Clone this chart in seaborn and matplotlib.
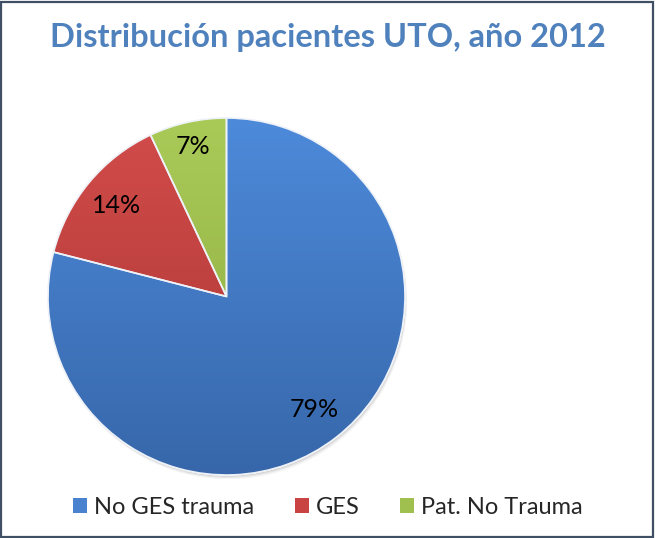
import numpy as np
import matplotlib
matplotlib.use("Agg")
import matplotlib.pyplot as plt
import seaborn as sns
from matplotlib.colors import to_rgb
from matplotlib.patches import Rectangle, Wedge, Circle

sns.set_theme(style="white")
plt.rcParams['font.family'] = ['Lato', 'DejaVu Sans']

categories = ["No GES trauma", "GES", "Pat. No Trauma"]
values = [79, 14, 7]
title = "Distribución pacientes UTO, año 2012"

light = ["#4D8ADA", "#D24C4A", "#AACA58"]
dark = ["#3767AA", "#A93634", "#8AA93E"]
base = ["#4A82D0", "#C84341", "#9FC04E"]

fig = plt.figure(figsize=(6.56, 5.38), dpi=100)
fig.patch.set_facecolor("white")

cx, cy, r = 226.5, 241.5, 178.5
W, H = 656, 538
ax = fig.add_axes([(cx - r) / W, (cy - r) / H, 2 * r / W, 2 * r / H])

wedges, texts, autotexts = ax.pie(
    values, colors=base, startangle=90, counterclock=False,
    autopct=lambda p: f"{p:.0f}%", pctdistance=0.8,
    wedgeprops=dict(edgecolor="white", linewidth=1.2),
    textprops=dict(fontsize=18, color="black"))

# the smallest slice label sits a bit further out, as in the original
x7, y7 = autotexts[2].get_position()
autotexts[2].set_position((x7 * 0.86 / 0.8, y7 * 0.86 / 0.8))

# soft shadow under the pie
for k, a in enumerate([0.10, 0.07, 0.04]):
    ax.add_patch(Circle((0.004 * (k + 1), -0.008 * (k + 1)), 1.0, facecolor="black",
                        edgecolor="none", alpha=a, zorder=0.5))

# subtle vertical gradient in each wedge
for w, lc, dc in zip(wedges, light, dark):
    l = np.array(to_rgb(lc)); d = np.array(to_rgb(dc))
    t = np.linspace(0, 1, 256)[:, None]
    grad = (l[None, :] * (1 - t) + d[None, :] * t)[:, None, :]
    im = ax.imshow(grad, extent=(-1, 1, -1, 1), aspect="auto", zorder=w.get_zorder() + 0.1)
    im.set_clip_path(w)
    ax.add_patch(Wedge(w.center, w.r, w.theta1, w.theta2, facecolor="none",
                       edgecolor="#EEF2F8", linewidth=1.2, zorder=w.get_zorder() + 0.2))
for t in autotexts:
    t.set_zorder(10)

ax.set_xlim(-1.02, 1.02)
ax.set_ylim(-1.02, 1.02)
ax.set_aspect("equal")
ax.axis("off")
pos = ax.get_position()
s = 1.02
ax.set_position([pos.x0 - pos.width * (s - 1) / 2, pos.y0 - pos.height * (s - 1) / 2,
                 pos.width * s, pos.height * s])

fig.text(0.5, 1 - 38 / H, title, ha="center", va="center", fontsize=23.5,
         fontweight="bold", color="#4F81BD")

handles = [Rectangle((0, 0), 1, 1, facecolor=c, edgecolor="none") for c in base]
fig.legend(handles, categories, loc="center", bbox_to_anchor=(0.5, 1 - 507 / H),
           ncol=3, frameon=False, fontsize=17, handlelength=0.6, handleheight=0.6,
           handletextpad=0.3, columnspacing=1.7)

fig.add_artist(Rectangle((0.5 / W, 1.5 / H), 1 - 3.5 / W, 1 - 3 / H, transform=fig.transFigure,
                         facecolor="none", edgecolor="#3F4F64", linewidth=1.6))

fig.savefig("out.png", dpi=100, facecolor="white")
